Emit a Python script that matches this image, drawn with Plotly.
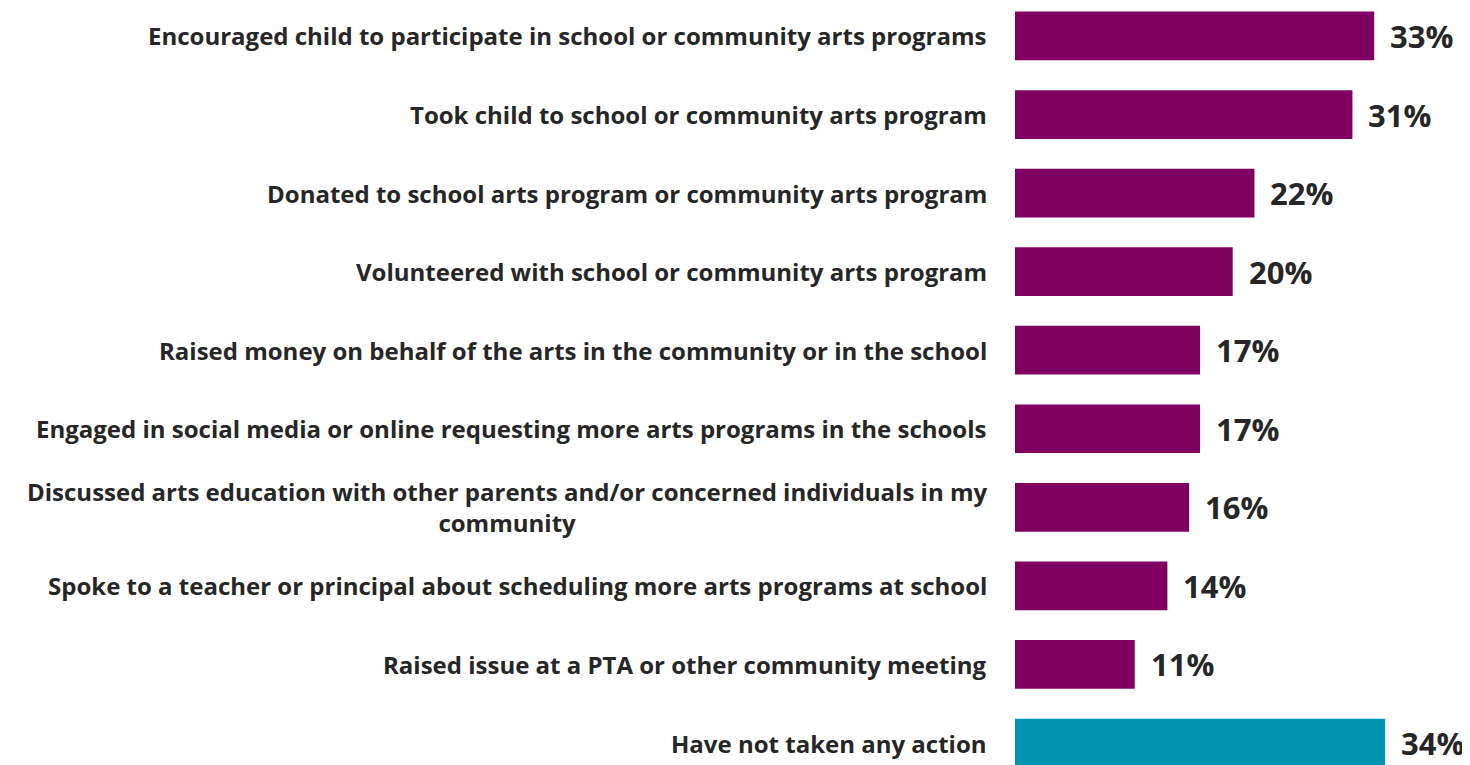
import plotly.graph_objects as go

categories = [
    "Encouraged child to participate in school or community arts programs",
    "Took child to school or community arts program",
    "Donated to school arts program or community arts program",
    "Volunteered with school or community arts program",
    "Raised money on behalf of the arts in the community or in the school",
    "Engaged in social media or online requesting more arts programs in the schools",
    "Discussed arts education with other parents and/or concerned individuals in my<br>community",
    "Spoke to a teacher or principal about scheduling more arts programs at school",
    "Raised issue at a PTA or other community meeting",
    "Have not taken any action",
]
values = [33, 31, 22, 20, 17, 17, 16, 14, 11, 34]
value_labels = ["33%", "31%", "22%", "20%", "17%", "17%", "16%", "14%", "11%", "34%"]

PURPLE = "#7F0060"
TEAL = "#0093B4"
TEXT = "#262626"
FONT = "Open Sans"

colors = [TEAL if c == "Have not taken any action" else PURPLE for c in categories]

fig = go.Figure(
    go.Bar(
        x=values,
        y=categories,
        orientation="h",
        marker=dict(color=colors, line=dict(width=0)),
        width=0.62,
        hoverinfo="skip",
    )
)

annotations = []
for cat, v, lab in zip(categories, values, value_labels):
    annotations.append(dict(
        x=v, y=cat, xref="x", yref="y", text=lab, showarrow=False,
        xanchor="left", yanchor="middle", xshift=14,
        font=dict(family=FONT, size=31, color=TEXT, weight="bold"),
    ))
    annotations.append(dict(
        x=0, y=cat, xref="paper", yref="y", text=cat, showarrow=False,
        xanchor="right", yanchor="middle", xshift=-26, align="center",
        font=dict(family=FONT, size=24, color=TEXT, weight="bold"),
    ))

fig.update_layout(
    width=1462, height=757,
    margin=dict(l=1007, r=0, t=0, b=0),
    paper_bgcolor="white", plot_bgcolor="white",
    showlegend=False,
    xaxis=dict(range=[0, 41.8], visible=False, fixedrange=True),
    yaxis=dict(
        type="category", categoryorder="array", categoryarray=categories,
        range=[9.28, -0.356], showticklabels=False, showgrid=False,
        zeroline=False, showline=False, ticks="",
    ),
    annotations=annotations,
)

fig.write_html("out.html")
